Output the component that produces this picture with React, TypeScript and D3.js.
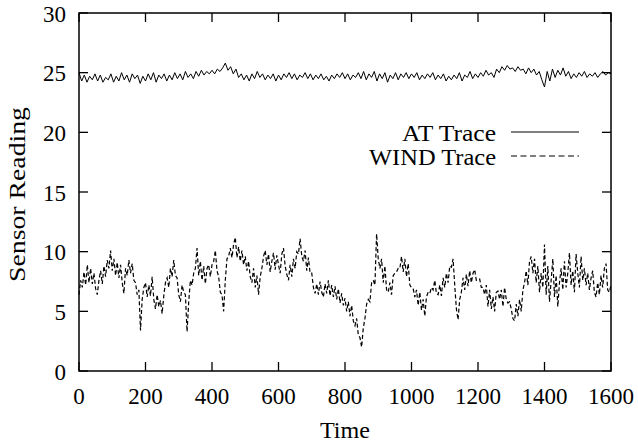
import React from "react";
import * as d3 from "d3";

const X_TICKS = [0, 200, 400, 600, 800, 1000, 1200, 1400, 1600];
const Y_TICKS = [0, 5, 10, 15, 20, 25, 30];
const SERIES_NAMES = ["AT Trace", "WIND Trace"];
const X_LABEL = "Time";
const Y_LABEL = "Sensor Reading";

const AT_STEP = 8;
const AT_VALUES = [
  25.0, 24.3, 24.8, 24.2, 24.7, 24.4, 24.9, 24.3, 24.8, 24.2, 24.6, 24.4, 24.9, 24.2, 24.7, 24.3, 25.0, 24.4, 24.8, 24.2, 24.9, 24.5, 24.8, 24.1, 24.7,
  24.3, 24.9, 24.4, 25.0, 24.2, 24.8, 24.5, 24.9, 24.3, 24.8, 24.4, 25.0, 24.5, 24.9, 24.4, 25.1, 24.6, 24.9, 24.5, 25.1, 24.7, 25.2, 24.8, 25.1, 24.9,
  25.2, 24.9, 25.3, 25.1, 25.4, 25.8, 25.2, 25.5, 24.9, 25.3, 24.6, 24.9, 24.4, 24.8, 24.3, 24.9, 24.5, 25.1, 24.6, 24.9, 24.4, 24.8, 24.5, 24.9, 24.3,
  24.8, 24.4, 24.9, 24.6, 25.0, 24.5, 24.9, 24.4, 24.8, 24.6, 25.0, 24.5, 24.9, 24.4, 24.8, 24.5, 24.9, 24.4, 24.7, 24.3, 24.8, 24.5, 24.9, 24.6, 25.0,
  24.5, 24.9, 24.4, 24.8, 24.6, 25.0, 24.5, 25.1, 24.4, 24.9, 24.6, 25.1, 24.3, 24.9, 24.5, 25.0, 24.2, 24.8, 24.5, 25.0, 24.4, 24.9, 24.6, 25.0, 24.5,
  24.9, 24.6, 25.0, 24.4, 24.8, 24.5, 24.9, 24.6, 25.0, 24.4, 24.8, 24.5, 24.9, 24.3, 24.7, 24.4, 24.8, 24.5, 25.0, 24.3, 24.8, 24.6, 25.1, 24.5, 24.9,
  24.6, 25.0, 24.7, 25.2, 24.8, 25.0, 24.6, 25.3, 25.0, 25.5, 25.2, 25.6, 25.3, 25.4, 25.1, 25.5, 25.2, 25.3, 24.9, 25.4, 25.0, 25.3, 24.8, 25.1, 24.4,
  23.8, 25.1, 24.3, 25.3, 24.6, 25.2, 24.8, 25.4, 24.7, 25.1, 24.5, 24.9, 24.6, 25.0, 24.7, 25.1, 24.6, 24.9, 24.7, 25.0, 24.6, 24.9, 25.1, 24.8, 25.0,
  24.9,
];

const WIND_STEP = 5;
const WIND_VALUES = [
  6.4, 7.6, 7.0, 8.3, 7.2, 8.9, 7.4, 8.6, 7.3, 8.2, 6.9, 6.4, 7.6, 8.4, 7.3, 8.8, 7.9, 9.3, 8.6, 10.1,
  8.4, 9.4, 8.0, 9.1, 7.8, 8.9, 7.4, 6.5, 8.6, 8.0, 9.3, 8.2, 9.0, 7.6, 7.4, 6.4, 6.8, 3.4, 6.0, 7.0,
  7.4, 6.2, 7.2, 6.3, 7.9, 6.0, 5.2, 6.4, 5.4, 5.9, 4.8, 6.3, 7.4, 7.8, 7.0, 8.6, 7.9, 9.3, 8.0, 7.8,
  6.4, 5.8, 7.2, 6.6, 6.4, 3.3, 5.8, 7.6, 7.2, 8.2, 8.6, 10.3, 8.0, 9.2, 7.6, 8.8, 7.3, 8.6, 8.9, 7.9,
  8.9, 9.2, 10.1, 8.4, 7.9, 6.6, 6.4, 5.0, 7.6, 9.4, 9.6, 10.3, 9.5, 10.6, 11.2, 9.5, 10.4, 9.2, 10.1, 8.9,
  9.6, 8.4, 9.2, 7.9, 7.4, 8.6, 7.0, 8.0, 6.4, 7.9, 8.6, 9.6, 10.1, 8.9, 9.8, 8.3, 9.2, 9.9, 8.5, 9.7,
  8.9, 8.2, 9.8, 10.3, 8.8, 8.1, 7.6, 8.9, 7.9, 9.4, 8.6, 10.0, 9.8, 11.1, 9.6, 9.2, 10.1, 8.4, 9.5, 8.2,
  8.2, 7.0, 6.5, 7.3, 6.4, 7.5, 6.6, 6.2, 7.3, 6.5, 7.6, 6.3, 7.2, 6.2, 7.1, 6.0, 6.9, 5.7, 6.5, 5.5,
  6.1, 5.0, 5.8, 4.6, 5.5, 4.2, 3.8, 4.4, 3.0, 2.8, 2.0, 3.6, 4.4, 5.6, 6.0, 5.8, 7.4, 7.6, 7.2, 11.5,
  9.4, 8.6, 9.4, 7.4, 8.8, 6.8, 6.6, 7.4, 6.4, 8.0, 8.2, 8.3, 8.6, 8.6, 9.6, 8.3, 9.4, 7.9, 9.0, 7.2,
  7.0, 6.9, 6.2, 6.8, 5.5, 6.6, 5.1, 6.0, 4.6, 6.2, 6.6, 6.5, 7.0, 6.8, 7.6, 6.5, 6.4, 7.2, 6.3, 7.8,
  7.0, 8.2, 7.4, 8.8, 8.7, 9.4, 7.2, 5.2, 4.3, 6.0, 6.6, 7.8, 6.8, 8.1, 7.1, 8.4, 7.4, 8.2, 8.5, 7.6,
  7.6, 7.7, 7.0, 7.0, 6.4, 7.2, 5.4, 6.8, 5.2, 6.2, 5.0, 6.6, 6.7, 6.0, 6.8, 5.4, 7.0, 6.0, 5.7, 5.8,
  5.2, 4.4, 4.2, 5.6, 4.6, 6.0, 5.0, 6.8, 7.4, 8.4, 7.2, 9.2, 9.6, 8.2, 9.4, 7.4, 8.8, 6.6, 8.2, 7.0,
  10.6, 6.4, 8.8, 5.8, 7.6, 9.4, 6.2, 8.0, 5.4, 7.4, 8.6, 6.8, 9.2, 7.0, 8.2, 9.9, 7.2, 8.4, 6.6, 9.8,
  8.2, 7.0, 9.6, 7.6, 8.6, 7.2, 8.2, 6.8, 7.8, 8.4, 6.6, 6.2, 7.4, 6.4, 8.0, 7.0, 8.6, 9.0, 6.8, 6.6,
  7.2,
];

const W = 638;
const H = 444;
const M = { left: 79, right: 27, top: 13, bottom: 73 };
const FONT = "'Liberation Serif', 'Times New Roman', serif";
const FS = 23;
const TICK = 9;

export default function App() {
  const x = d3.scaleLinear().domain([0, 1600]).range([M.left, W - M.right]);
  const y = d3.scaleLinear().domain([0, 30]).range([H - M.bottom, M.top]);

  const atData = AT_VALUES.map((v, i) => [i * AT_STEP, v] as [number, number]);
  const windData = WIND_VALUES.map((v, i) => [i * WIND_STEP, v] as [number, number]);
  const line = d3
    .line<[number, number]>()
    .x((d) => x(d[0]))
    .y((d) => y(d[1]));

  const x0 = x(0), x1 = x(1600), y0 = y(0), y1 = y(30);

  const legendY = [132, 156];
  const legendTextX = 496;
  const legendLine = [511, 579];

  return (
    <svg
      width={W}
      height={H}
      style={{ position: "absolute", left: 0, top: 0, background: "#fff" }}
      fontFamily={FONT}
      fontSize={FS}
    >
      <rect x={0} y={0} width={W} height={H} fill="#fff" />
      {/* data */}
      <path d={line(windData) ?? ""} fill="none" stroke="#000" strokeWidth={1.2} strokeDasharray="4,2.5" />
      <path d={line(atData) ?? ""} fill="none" stroke="#000" strokeWidth={1} />

      {/* ticks */}
      {X_TICKS.map((t) => (
        <g key={"x" + t}>
          <line x1={x(t)} x2={x(t)} y1={y0} y2={y0 - TICK} stroke="#000" strokeWidth={1.3} />
          <line x1={x(t)} x2={x(t)} y1={y1} y2={y1 + TICK} stroke="#000" strokeWidth={1.3} />
          <text x={x(t)} y={y0 + 33} textAnchor="middle">{t}</text>
        </g>
      ))}
      {Y_TICKS.map((t) => (
        <g key={"y" + t}>
          <line x1={x0} x2={x0 + TICK} y1={y(t)} y2={y(t)} stroke="#000" strokeWidth={1.3} />
          <line x1={x1} x2={x1 - TICK} y1={y(t)} y2={y(t)} stroke="#000" strokeWidth={1.3} />
          <text x={x0 - 13} y={y(t) + 8.5} textAnchor="end">{t}</text>
        </g>
      ))}
      <rect x={x0} y={y1} width={x1 - x0} height={y0 - y1} fill="none" stroke="#000" strokeWidth={1.5} />

      {/* labels */}
      <text x={345} y={438} textAnchor="middle" textLength={50} lengthAdjust="spacingAndGlyphs">{X_LABEL}</text>
      <text
        transform={`translate(25,194.5) rotate(-90)`}
        textAnchor="middle"
        textLength={175}
        lengthAdjust="spacingAndGlyphs"
      >
        {Y_LABEL}
      </text>

      {/* legend */}
      <text x={402} y={legendY[0] + 9} textLength={94} lengthAdjust="spacingAndGlyphs">{SERIES_NAMES[0]}</text>
      <line x1={legendLine[0]} x2={legendLine[1]} y1={legendY[0]} y2={legendY[0]} stroke="#000" strokeWidth={1} />
      <text x={369} y={legendY[1] + 9} textLength={legendTextX - 369} lengthAdjust="spacingAndGlyphs">{SERIES_NAMES[1]}</text>
      <line x1={legendLine[0]} x2={legendLine[1]} y1={legendY[1]} y2={legendY[1]} stroke="#000" strokeWidth={1} strokeDasharray="6,3.5" />
    </svg>
  );
}
